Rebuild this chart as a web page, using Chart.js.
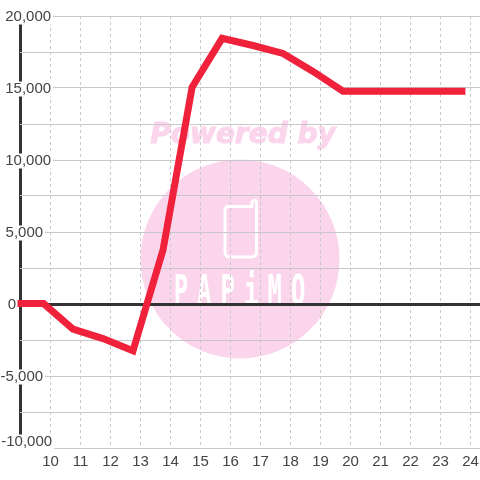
<!DOCTYPE html>
<html>
<head>
<meta charset="utf-8">
<script src="https://cdn.jsdelivr.net/npm/chart.js@4"></script>
<style>
  html, body { margin: 0; padding: 0; background: #fff; }
  canvas { display: block; }
</style>
</head>
<body>
<canvas id="chart" width="480" height="480"></canvas>
<script>
const hours = [8.9, 9.77, 10.75, 11.75, 12.75, 13.75, 14.72, 15.72, 16.75, 17.75, 18.75, 19.75, 20.75, 21.75, 22.75, 23.83];
const values = [30, 30, -1750, -2400, -3250, 3750, 15050, 18450, 17950, 17400, 16150, 14780, 14780, 14780, 14780, 14780];
const xTickValues = [10, 11, 12, 13, 14, 15, 16, 17, 18, 19, 20, 21, 22, 23, 24];
const yTickLabels = ["20,000", "15,000", "10,000", "5,000", "0", "-5,000", "-10,000"];

const RED = "#f0213a";
const DARK = "#333333";
const TEXT = "#444444";
const GRID = "#c8c8c8";
const PINK = "#fbd5ec";

// x range chosen so one hour is 30px and 10 sits at 50.5
const xMin = 10 - 30.5 / 30;
const xMax = 10 + 429.5 / 30;

// odd label spots in the original, keyed by tick value
const labelNudge = {
  "20000": [0, 1],
  "15000": [0, 1],
  "10000": [0, 1],
  "5000": [-8, 1],
  "0": [-35, 1],
  "-5000": [-8, 1],
  "-10000": [1, -6],
};

const watermark = {
  id: "watermark",
  beforeDraw(chart) {
    const ctx = chart.ctx;
    ctx.save();
    ctx.fillStyle = PINK;
    ctx.beginPath();
    ctx.arc(240, 259, 99.5, 0, Math.PI * 2);
    ctx.fill();

    ctx.font = "italic bold 28px 'DejaVu Sans'";
    ctx.textAlign = "center";
    ctx.textBaseline = "alphabetic";
    ctx.strokeStyle = PINK;
    ctx.lineWidth = 1;
    ctx.fillText("Powered by", 243, 143);
    ctx.strokeText("Powered by", 243, 143);

    // phone
    ctx.strokeStyle = "#fff";
    ctx.lineWidth = 3;
    ctx.lineJoin = "round";
    ctx.beginPath();
    ctx.moveTo(229, 206.5);
    ctx.lineTo(252, 206.5);
    ctx.lineTo(252, 202);
    ctx.quadraticCurveTo(256, 198, 256.5, 203);
    ctx.lineTo(256.5, 252);
    ctx.quadraticCurveTo(256.5, 257, 251, 257);
    ctx.lineTo(230, 257);
    ctx.quadraticCurveTo(225, 257, 225, 252);
    ctx.lineTo(225, 210);
    ctx.quadraticCurveTo(225, 206.5, 229, 206.5);
    ctx.stroke();

    // logo text, stretched to the tall narrow look
    ctx.save();
    ctx.translate(240, 305);
    ctx.scale(1, 1.75);
    ctx.fillStyle = "#fff";
    ctx.font = "bold 24px 'DejaVu Sans Mono'";
    ctx.letterSpacing = "9px";
    ctx.fillText("PAPiMO", 4, 0);
    ctx.restore();
    ctx.restore();

    // the backdrop is drawn relative to the translation, so it follows the label
    const y = chart.scales.y;
    y.getLabelItems().forEach((item, i) => {
      const nudge = labelNudge[y.ticks[i].value];
      if (!nudge || item.nudged) return;
      item.nudged = true;
      item.options.translation[0] += nudge[0];
      item.options.translation[1] += nudge[1];
    });
  },
};

new Chart(document.getElementById("chart"), {
  type: "line",
  data: {
    datasets: [{
      data: hours.map((h, i) => ({ x: h, y: values[i] })),
      borderColor: RED,
      borderWidth: 7,
      pointRadius: 0,
      tension: 0,
      fill: false,
      clip: false,
    }],
  },
  options: {
    responsive: false,
    animation: false,
    layout: { padding: { top: 16, left: 20, right: 0, bottom: 0 } },
    plugins: { legend: { display: false }, tooltip: { enabled: false } },
    scales: {
      x: {
        type: "linear",
        min: xMin,
        max: xMax,
        afterBuildTicks: (s) => {
          s.ticks = [{ value: xMin }].concat(xTickValues.map((v) => ({ value: v })));
        },
        afterFit: (s) => { s.height = 32; s.paddingLeft = 0; s.paddingRight = 0; },
        border: {
          display: false,
          dash: (c) => (c.tick && c.tick.value === xMin ? [] : [3, 3]),
        },
        grid: {
          drawTicks: false,
          color: (c) => (c.tick && c.tick.value === xMin ? DARK : GRID),
          lineWidth: (c) => (c.tick && c.tick.value === xMin ? 3 : 1),
        },
        ticks: {
          autoSkip: false,
          maxRotation: 0,
          padding: 5,
          color: TEXT,
          font: { family: "'Liberation Sans'", size: 15 },
          callback: (v) => (xTickValues.includes(v) ? String(v) : ""),
        },
      },
      y: {
        position: { x: 10.02 },
        min: -10000,
        max: 20000,
        border: { display: false },
        grid: {
          drawTicks: false,
          color: (c) => (c.tick && c.tick.value === 0 ? DARK : GRID),
          lineWidth: (c) => (c.tick && c.tick.value === 0 ? 3 : 1),
        },
        ticks: {
          stepSize: 2500,
          autoSkip: false,
          color: TEXT,
          font: { family: "'Liberation Sans'", size: 15, lineHeight: 1 },
          showLabelBackdrop: true,
          backdropPadding: { top: 0, bottom: 0, left: 2, right: 2 },
          backdropColor: (c) => (c.tick && c.tick.value % 5000 === 0 ? "#fff" : "rgba(0,0,0,0)"),
          callback: (v) => (v % 5000 === 0 ? yTickLabels[(20000 - v) / 5000] : ""),
        },
      },
    },
  },
  plugins: [watermark],
});
</script>
</body>
</html>
